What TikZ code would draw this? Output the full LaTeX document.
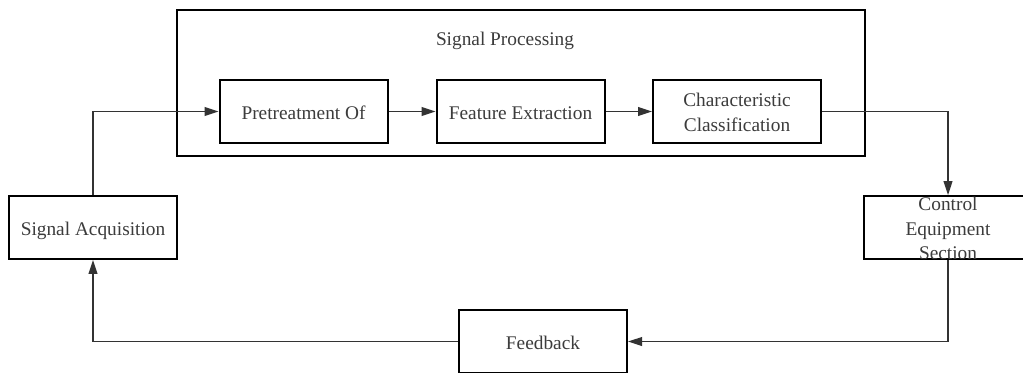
\documentclass[tikz,border=0pt]{standalone}
\usepackage{fontspec}
\setmainfont{Liberation Serif}
\usetikzlibrary{arrows.meta}
\definecolor{txt}{HTML}{3C3C3C}
\definecolor{ln}{HTML}{333333}
\begin{document}
\begin{tikzpicture}[x=0.75pt,y=-0.75pt,
  blk/.style={draw=black,line width=1.5pt,minimum width=126pt,minimum height=47pt,
    inner sep=0pt,align=center,text=txt,text height=11.8pt,text depth=0pt,
    font=\fontsize{14.5}{18.5}\selectfont},
  lbl/.style={text=txt,inner sep=0pt,text height=11.1pt,text depth=0pt,align=center},
  conn/.style={draw=ln,line width=1.3pt,-{Triangle[length=10.5pt,width=6.5pt]}}]
\useasboundingbox (0,0) rectangle (1023,372);
\clip (0,0) rectangle (1023,372);
\fill[white] (0,0) rectangle (1023,372);
\node[draw=black,line width=1.5pt,minimum width=516pt,minimum height=109.5pt,inner sep=0pt] (sp) at (521,83) {};
\node[lbl,font=\fontsize{14.5}{18.5}\selectfont] (spl) at (505,38.5) {Signal Processing};
\node[blk] (pre) at (303.5,111.5) {Pretreatment Of};
\node[blk] (fe) at (520.5,111.5) {Feature Extraction};
\node[blk,text height=29.6pt] (cc) at (737,111.5) {Characteristic\\Classification};
\node[blk] (sa) at (93,227.5) {Signal Acquisition};
\node[blk] (ce) at (948,227.5) {};
\node[lbl,text height=48.7pt,font=\fontsize{14.5}{18.4}\selectfont] (cet) at (ce.center) {Control\\Equipment\\Section};
\node[blk] (fb) at (543,341.5) {Feedback};
\draw[conn] (sa.north) |- (pre.west);
\draw[conn] (pre.east) -- (fe.west);
\draw[conn] (fe.east) -- (cc.west);
\draw[conn] (cc.east) -| (ce.north);
\draw[conn] (ce.south) |- (fb.east);
\draw[conn] (fb.west) -| (sa.south);
\end{tikzpicture}
\end{document}
